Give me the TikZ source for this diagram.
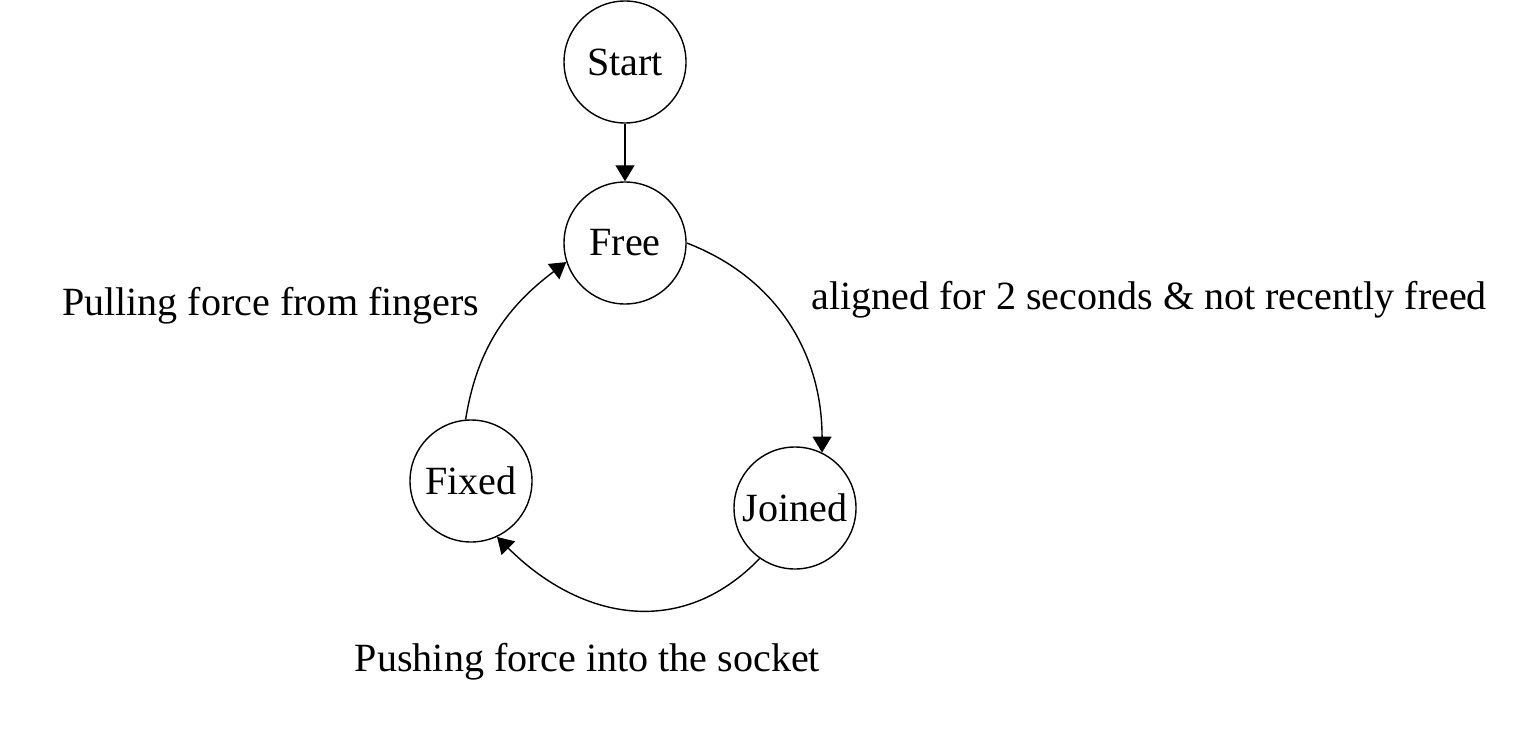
\documentclass[tikz,border=0pt]{standalone}
\usepackage{fontspec}
\setmainfont{Liberation Serif}
\usetikzlibrary{arrows.meta}

\begin{document}
\begin{tikzpicture}[
        state/.style={circle, draw, line width=0.8pt, minimum size=2.44cm, inner sep=0pt},
        every edge/.style={draw, ->},
        font=\fontsize{22.8}{27}\selectfont,
        line width=0.8pt,
        >={Triangle[length=0.32cm, width=0.38cm]}
    ]
        \useasboundingbox (0,0) rectangle (30.32,15);

        \node[state] (start) at (12.5, 13.76) {Start};
        \node[state] (free) at (12.5, 10.14) {Free};
        \node[state] (fixed) at (9.42, 5.38) {Fixed};
        \node[state] (joined) at (15.9, 4.84) {Joined};

        \node[anchor=west] (aligned) at (16.1, 9.0) {aligned for 2 seconds \& not recently freed};
        \node[anchor=east] (pulling) at (9.72, 8.88) {Pulling force from fingers};
        \node (pushing) at (11.75, 1.76) {Pushing force into the socket};

        \draw[->] (start) -- (free);
        \draw[->] (free.0) to[out=-21, in=90] (joined.64);
        \draw[->] (joined.235) to[out=226, in=-45, looseness=1.12] (fixed.-65);
        \draw[->] (fixed.95) to[out=81, in=-143] (free.198);
    \end{tikzpicture}
\end{document}
